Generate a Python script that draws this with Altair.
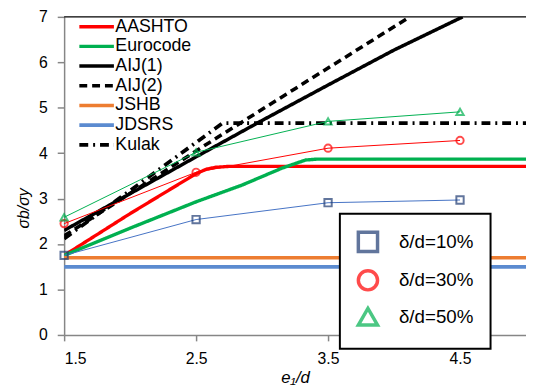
import altair as alt
import pandas as pd

# ---- data ----
x_pts = [1.5, 2.5, 3.5, 4.5]
d10 = [1.75, 2.54, 2.91, 2.97]
d30 = [2.45, 3.58, 4.11, 4.28]
d50 = [2.59, 4.02, 4.70, 4.91]

aashto_x = [1.5, 2.0, 2.5, 2.58, 2.65, 2.75, 5.0]
aashto_y = [1.75, 2.67, 3.55, 3.65, 3.69, 3.71, 3.71]
euro_x = [1.5, 2.0, 2.5, 2.85, 3.15, 3.33, 3.42, 5.0]
euro_y = [1.75, 2.35, 2.93, 3.30, 3.67, 3.85, 3.87, 3.87]
aij1_x = [1.5, 2.5, 3.0, 3.5, 4.0, 4.52]
aij1_y = [2.30, 3.92, 4.72, 5.50, 6.27, 7.0]
aij2_x = [1.5, 2.5, 3.25, 4.12]
aij2_y = [2.18, 4.05, 5.42, 7.0]
jshb_x = [1.5, 5.0]
jshb_y = [1.7, 1.7]
jdsrs_x = [1.5, 5.0]
jdsrs_y = [1.5, 1.5]
kulak_x = [1.5, 2.7, 5.0]
kulak_y = [2.12, 4.66, 4.66]

line_names = ["AASHTO", "Eurocode", "AIJ(1)", "AIJ(2)", "JSHB", "JDSRS", "Kulak"]
line_colors = ["#FF0000", "#00B050", "#000000", "#000000", "#ED7D31", "#5B8BD0", "#000000"]
line_dash = [[1, 0], [1, 0], [1, 0], [8, 5], [1, 0], [1, 0], [9, 5, 2, 5]]
line_width = [3.4, 3.8, 2, 2, 3, 3, 1.8]

grp_names = ["δ/d=10%", "δ/d=30%", "δ/d=50%"]
grp_marker_colors = ["#1F3B73", "#FF0000", "#00B050"]
grp_line_colors = ["#4472C4", "#FF0000", "#00B050"]
grp_shapes = ["square", "circle", "triangle-up"]

# ---- tables ----
curves = [(aashto_x, aashto_y), (euro_x, euro_y), (aij1_x, aij1_y), (aij2_x, aij2_y),
          (jshb_x, jshb_y), (jdsrs_x, jdsrs_y), (kulak_x, kulak_y)]
rows = []
for name, (xs_, ys_) in zip(line_names, curves):
    for i, (a, b) in enumerate(zip(xs_, ys_)):
        rows.append({"x": a, "y": b, "series": name, "i": i})
df_lines = pd.DataFrame(rows)

prow = []
for g, vals in zip(grp_names, [d10, d30, d50]):
    for i, (a, b) in enumerate(zip(x_pts, vals)):
        prow.append({"x": a, "y": b, "grp": g, "i": i})
df_pts = pd.DataFrame(prow)

FONT = "Liberation Sans, Arial, sans-serif"
W, H = 469, 323

xs = alt.Scale(domain=[1.5, 5.0], nice=False, zero=False)
ys = alt.Scale(domain=[0, 7], nice=False, zero=True)

x_axis = alt.Axis(values=[1.5, 2.5, 3.5, 4.5], format=".1f", grid=False,
                  domainColor="#868686", domainWidth=1.5, tickColor="#868686", tickWidth=1.5,
                  tickSize=6, labelFont=FONT, labelFontSize=16, labelColor="black",
                  labelPadding=10, title="e₁/d", titleFont=FONT, titleFontSize=17,
                  titleFontStyle="italic", titleFontWeight="normal", titleColor="black",
                  titlePadding=3)
y_axis = alt.Axis(values=list(range(0, 8)), grid=False,
                  domainColor="#868686", domainWidth=1.5, tickColor="#868686", tickWidth=1.5,
                  tickSize=7, labelFont=FONT, labelFontSize=16, labelColor="black",
                  labelPadding=10, title="σb/σy", titleFont=FONT, titleFontSize=16,
                  titleFontStyle="italic", titleFontWeight="normal", titleColor="black",
                  titleX=-41, titleY=194, titleBaseline="middle", titleAlign="center")

base_lines = alt.Chart(df_lines).mark_line(clip=True).encode(
    x=alt.X("x:Q", scale=xs, axis=x_axis),
    y=alt.Y("y:Q", scale=ys, axis=y_axis),
    color=alt.Color("series:N", scale=alt.Scale(domain=line_names, range=line_colors),
                    legend=alt.Legend(orient="none", legendX=22, legendY=-1, title=None,
                                      symbolType="M-1.95,0H1.95", symbolSize=324,
                                      labelFont=FONT, labelFontSize=18, labelColor="black",
                                      labelLimit=0, rowPadding=0, labelOffset=8, padding=0)),
    strokeDash=alt.StrokeDash("series:N", scale=alt.Scale(domain=line_names, range=line_dash)),
    strokeWidth=alt.StrokeWidth("series:N", scale=alt.Scale(domain=line_names, range=line_width)),
    order="i:Q",
)

thin = []
for g, c in zip(grp_names, grp_line_colors):
    thin.append(
        alt.Chart(df_pts).transform_filter(alt.datum.grp == g)
        .mark_line(color=c, strokeWidth=1)
        .encode(x=alt.X("x:Q", scale=xs), y=alt.Y("y:Q", scale=ys), order="i:Q")
    )

pts = alt.Chart(df_pts).mark_point(filled=False, size=55, strokeWidth=2).encode(
    x=alt.X("x:Q", scale=xs),
    y=alt.Y("y:Q", scale=ys),
    shape=alt.Shape("grp:N", scale=alt.Scale(domain=grp_names, range=grp_shapes),
                    legend=alt.Legend(orient="none", legendX=280, legendY=200, title=None,
                                      strokeColor="black", fillColor="white", padding=17,
                                      symbolSize=380, symbolStrokeWidth=3.5,
                                      labelFont=FONT, labelFontSize=19, labelColor="black",
                                      labelLimit=0, rowPadding=4, labelOffset=20,
                                      labelExpr="datum.label + '\u2003'")),
    stroke=alt.Stroke("grp:N", scale=alt.Scale(domain=grp_names, range=grp_marker_colors)),
)

top = alt.Chart(pd.DataFrame({"k": [0]})).mark_rule(color="black", strokeWidth=1.5).encode(
    x=alt.value(0), x2=alt.value(W), y=alt.value(0))

chart = alt.layer(base_lines, *thin, pts, top).properties(
    width=W, height=H,
    autosize=alt.AutoSizeParams(type="none"),
    padding={"left": 57, "top": 6, "right": 0, "bottom": 60},
).configure_view(stroke=None).configure_legend(strokeWidth=2)

chart.save("out.html", embed_options={"renderer": "svg", "actions": False})
